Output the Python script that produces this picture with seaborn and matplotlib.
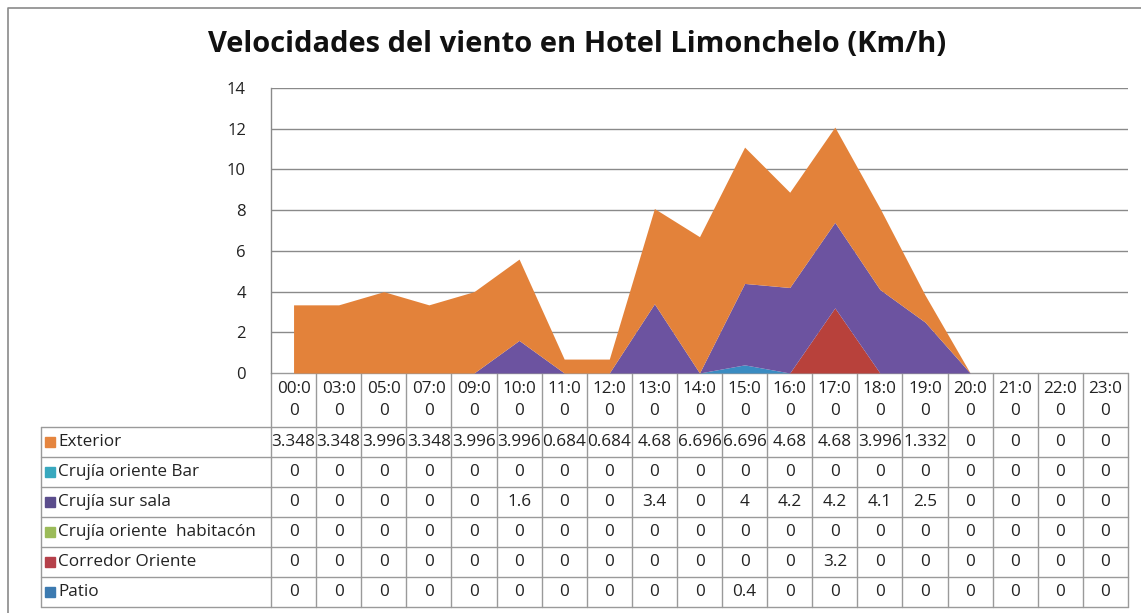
import matplotlib
matplotlib.use("Agg")
import matplotlib.pyplot as plt
import seaborn as sns
import numpy as np

# ---------------- data ----------------
times = ["00:00", "03:00", "05:00", "07:00", "09:00", "10:00", "11:00", "12:00",
         "13:00", "14:00", "15:00", "16:00", "17:00", "18:00", "19:00", "20:00",
         "21:00", "22:00", "23:00"]
series_names = ["Exterior", "Crujía oriente Bar", "Crujía sur sala",
                "Crujía oriente  habitacón", "Corredor Oriente", "Patio"]
exterior = [3.348, 3.348, 3.996, 3.348, 3.996, 3.996, 0.684, 0.684, 4.68, 6.696,
            6.696, 4.68, 4.68, 3.996, 1.332, 0, 0, 0, 0]
oriente_bar = [0] * 19
sur_sala = [0, 0, 0, 0, 0, 1.6, 0, 0, 3.4, 0, 4, 4.2, 4.2, 4.1, 2.5, 0, 0, 0, 0]
oriente_hab = [0] * 19
corredor = [0, 0, 0, 0, 0, 0, 0, 0, 0, 0, 0, 0, 3.2, 0, 0, 0, 0, 0, 0]
patio = [0, 0, 0, 0, 0, 0, 0, 0, 0, 0, 0.4, 0, 0, 0, 0, 0, 0, 0, 0]
yticks = [0, 2, 4, 6, 8, 10, 12, 14]
title = "Velocidades del viento en Hotel Limonchelo (Km/h)"

series_values = [exterior, oriente_bar, sur_sala, oriente_hab, corredor, patio]
area_colors = ["#E3823A", "#3FA7C4", "#6C53A0", "#9BBB59", "#B8413B", "#3A8CC2"]
legend_colors = ["#E5853F", "#38A8BE", "#5B4D8C", "#9BBB59", "#B5404A", "#3C7AB0"]

# ---------------- figure ----------------
sns.set_theme(style="white")
plt.rcParams["font.family"] = ["Open Sans", "DejaVu Sans"]

W, H = 1141, 613
fig = plt.figure(figsize=(W / 100, H / 100), dpi=100)
fig.patch.set_facecolor("white")

ax_left, ax_right, ax_top, ax_bottom = 271, 1128, 88, 373
ax = fig.add_axes([ax_left / W, 1 - ax_bottom / H, (ax_right - ax_left) / W,
                   (ax_bottom - ax_top) / H])

n = len(times)
x = np.arange(n)
# stack bottom-up: Patio, Corredor, habitacón, sur sala, Bar, Exterior
order = list(range(len(series_names)))[::-1]
ax.stackplot(x, [series_values[i] for i in order],
             colors=[area_colors[i] for i in order], linewidth=0, zorder=2)
ax.set_xlim(-0.5, n - 0.5)
ax.set_ylim(0, 14)
ax.set_yticks(yticks)
ax.set_yticklabels([str(t) for t in yticks], fontsize=12, color="#222222")
ax.tick_params(axis="y", length=0, pad=18)
ax.set_xticks([])
for t in yticks[1:]:
    ax.axhline(t, color="#8A8A8A", linewidth=1.0, zorder=1)
for side in ["top", "right", "bottom"]:
    ax.spines[side].set_visible(False)
ax.spines["left"].set_color("#8A8A8A")
ax.spines["left"].set_linewidth(1.0)
ax.set_facecolor("none")

# ---------------- overlay (title, table, frame) ----------------
ov = fig.add_axes([0, 0, 1, 1], zorder=-1)
ov.set_xlim(0, W)
ov.set_ylim(H, 0)
ov.axis("off")

ov.text(577, 44, title, ha="center", va="center", fontsize=21,
        fontweight="bold", color="#111111")

# outer frame
ov.plot([8, 8, W + 5], [H + 5, 8, 8], color="#8A8A8A", lw=1.2)

line_c = "#9A9A9A"
col_w = (ax_right - ax_left) / n
head_top, head_bot = ax_bottom, 427
row_h = 30
leg_left = 41
table_bot = head_bot + row_h * len(series_names)

# vertical lines in data columns
for i in range(n + 1):
    xx = ax_left + i * col_w
    ov.plot([xx, xx], [head_top, table_bot], color=line_c, lw=1.0)
# legend column left edge
ov.plot([leg_left, leg_left], [head_bot, table_bot], color=line_c, lw=1.0)
# horizontal lines
ov.plot([ax_left, ax_right], [head_top, head_top], color=line_c, lw=1.0)
for r in range(len(series_names) + 1):
    yy = head_bot + r * row_h
    ov.plot([leg_left, ax_right], [yy, yy], color=line_c, lw=1.0)

fs = 12.3
# header
for i, t in enumerate(times):
    cx = ax_left + (i + 0.5) * col_w
    ov.text(cx, 389, t[:4], ha="center", va="center", fontsize=fs, color="#222222")
    ov.text(cx, 411, t[4:], ha="center", va="center", fontsize=fs, color="#222222")


def fmt(v):
    return f"{v:g}"


for r, (name, vals) in enumerate(zip(series_names, series_values)):
    cy = head_bot + (r + 0.5) * row_h
    ov.add_patch(plt.Rectangle((45, cy - 5), 10, 10, color=legend_colors[r]))
    ov.text(58, cy, name, ha="left", va="center", fontsize=fs, color="#222222")
    for i, v in enumerate(vals):
        cx = ax_left + (i + 0.5) * col_w
        ov.text(cx, cy, fmt(v), ha="center", va="center", fontsize=fs,
                color="#222222")

fig.savefig("out.png", dpi=100, facecolor="white")
